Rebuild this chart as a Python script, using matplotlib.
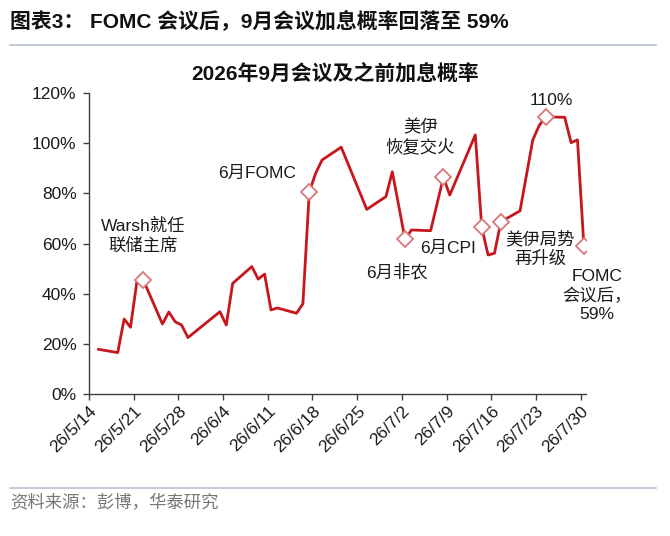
import pandas as pd
import matplotlib
matplotlib.use('Agg')
import matplotlib.pyplot as plt
from matplotlib.lines import Line2D
from matplotlib.ticker import FuncFormatter

plt.rcParams['font.family'] = ['Liberation Sans', 'Noto Sans CJK SC']

# Data (rate hike probability, %)
dates = ['2026-05-15', '2026-05-18', '2026-05-19', '2026-05-20', '2026-05-21', '2026-05-22',
         '2026-05-25', '2026-05-26', '2026-05-27', '2026-05-28', '2026-05-29',
         '2026-06-03', '2026-06-04', '2026-06-05', '2026-06-08', '2026-06-09',
         '2026-06-10', '2026-06-11', '2026-06-12', '2026-06-15', '2026-06-16',
         '2026-06-17', '2026-06-18', '2026-06-19', '2026-06-22', '2026-06-26',
         '2026-06-29', '2026-06-30', '2026-07-02', '2026-07-03', '2026-07-06',
         '2026-07-08', '2026-07-09', '2026-07-13', '2026-07-14', '2026-07-15',
         '2026-07-16', '2026-07-17', '2026-07-20', '2026-07-22', '2026-07-23',
         '2026-07-24', '2026-07-27', '2026-07-28', '2026-07-29', '2026-07-30']
probs = [17.8, 16.5, 29.9, 26.6, 44.8, 45.5,
         27.9, 32.7, 28.8, 27.5, 22.5,
         32.8, 27.5, 44.1, 50.8, 45.8,
         47.8, 33.5, 34.3, 32.2, 36.0,
         80.6, 88.0, 93.3, 98.4, 73.6,
         78.7, 88.6, 61.6, 65.4, 65.1,
         86.4, 79.3, 103.3, 66.5, 55.4,
         56.1, 68.7, 73.0, 101.3, 107.0,
         110.5, 110.3, 100.2, 101.3, 59.1]

# event markers and their labels
event_dates = ['2026-05-22', '2026-06-17', '2026-07-02', '2026-07-08',
               '2026-07-14', '2026-07-17', '2026-07-24', '2026-07-30']
event_labels = ['Warsh就任\n联储主席', '6月FOMC', '6月非农', '美伊\n恢复交火',
                '6月CPI', '美伊局势\n再升级', '110%', 'FOMC\n会议后，\n59%']
label_offsets = [(0, 44), (-52, 18), (-8, -33), (-23, 40),
                 (-34, -21), (39, -27), (6, 16), (13, -50)]

tick_dates = pd.date_range('2026-05-14', '2026-07-30', freq='7D')

line_color = '#C8161D'

x = pd.to_datetime(dates) + pd.Timedelta(hours=12)
s = pd.Series(probs, index=x)
ev_x = pd.to_datetime(event_dates) + pd.Timedelta(hours=12)
ev_y = s.loc[ev_x].values

fig = plt.figure(figsize=(6.7, 5.36), dpi=100)
ax = fig.add_axes([89 / 670, 1 - 394 / 536, (586 - 89) / 670, (394 - 93) / 536])

ax.plot(x, probs, color=line_color, lw=2.0, zorder=2)
ax.plot(ev_x, ev_y, linestyle='none', marker='D', ms=8, mfc='white',
        mec='#D9777A', mew=1.3, zorder=3)

for ex, ey, lab, off in zip(ev_x, ev_y, event_labels, label_offsets):
    ax.annotate(lab, xy=(ex, ey), xytext=off, textcoords='offset pixels',
                ha='center', va='center', fontsize=12.5, linespacing=1.25,
                color='#1a1a1a', annotation_clip=False)

ax.set_ylim(0, 120)
ax.set_yticks(range(0, 121, 20))
ax.yaxis.set_major_formatter(FuncFormatter(lambda v, p: f'{v:.0f}%'))
ax.set_xlim(pd.Timestamp('2026-05-14'), pd.Timestamp('2026-07-30') + pd.Timedelta(hours=20))
ax.set_xticks(tick_dates)
ax.set_xticklabels([f'{d.year % 100}/{d.month}/{d.day}' for d in tick_dates],
                   rotation=45, ha='right', va='top', rotation_mode='anchor')

for side in ['top', 'right']:
    ax.spines[side].set_visible(False)
for side in ['left', 'bottom']:
    ax.spines[side].set_color('#404040')
    ax.spines[side].set_linewidth(1.0)
ax.tick_params(axis='both', colors='#404040', labelcolor='#1a1a1a', labelsize=12.5,
               length=4, width=1.0, direction='out')
ax.tick_params(axis='x', pad=3)
ax.tick_params(axis='y', pad=5)

# header and footer
fig.text(10 / 670, 1 - 22 / 536, '图表3： FOMC 会议后，9月会议加息概率回落至 59%',
         fontsize=15, fontweight='bold', ha='left', va='center', color='#111111')
fig.add_artist(Line2D([10 / 670, 656 / 670], [1 - 45 / 536, 1 - 45 / 536],
                      color='#B4C3D2', lw=1.2))
fig.text(0.5, 1 - 73 / 536, '2026年9月会议及之前加息概率', fontsize=15,
         fontweight='bold', ha='center', va='center', color='#111111')
fig.add_artist(Line2D([10 / 670, 656 / 670], [1 - 488 / 536, 1 - 488 / 536],
                      color='#B4C3D2', lw=1.2))
fig.text(10 / 670, 1 - 503 / 536, '资料来源：彭博，华泰研究', fontsize=12.5,
         ha='left', va='center', color='#777777')

fig.savefig('out.png', dpi=100)
